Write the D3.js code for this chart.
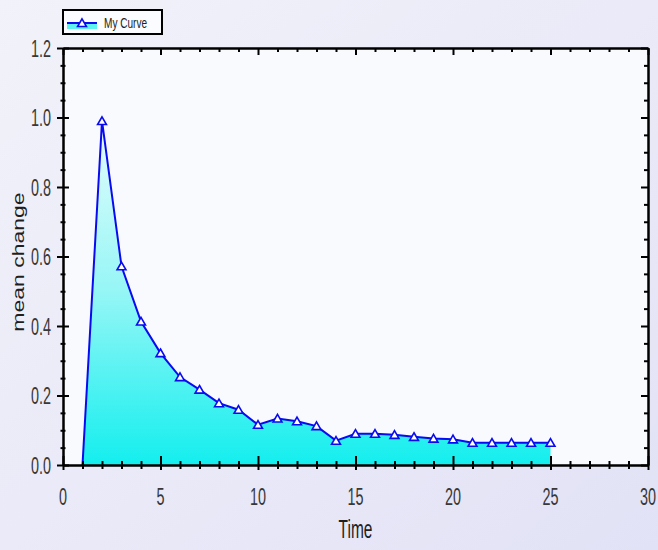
<!DOCTYPE html>
<html>
<head>
<meta charset="utf-8">
<script src="https://cdn.jsdelivr.net/npm/d3@7"></script>
<style>
  body { margin: 0; padding: 0; background: #fff; }
  #viz svg { display: block; }
</style>
</head>
<body>
<div id="viz"></div>
<script>
// chart data
const times = [1, 2, 3, 4, 5, 6, 7, 8, 9, 10, 11, 12, 13, 14, 15, 16, 17, 18, 19, 20, 21, 22, 23, 24, 25];
const meanChange = [0, 0.99, 0.572, 0.413, 0.322, 0.253, 0.217, 0.178, 0.159, 0.116, 0.134, 0.126, 0.112, 0.07,
  0.09, 0.09, 0.087, 0.081, 0.076, 0.074, 0.064, 0.064, 0.064, 0.064, 0.064];
const xTicks = [0, 5, 10, 15, 20, 25, 30];
const yTicks = [0, 0.2, 0.4, 0.6, 0.8, 1.0, 1.2];
const seriesName = "My Curve";

const data = times.map((t, i) => ({ t: t, v: meanChange[i] }));

const W = 658, H = 550;
const margin = { top: 48, right: 10, bottom: 85, left: 63 };
const width = W - margin.left - margin.right;
const height = H - margin.top - margin.bottom;
const FONT = "'Liberation Sans', Arial, sans-serif";

const svg = d3.select("#viz").append("svg")
  .attr("width", W)
  .attr("height", H);

const defs = svg.append("defs");
const bg = defs.append("linearGradient").attr("id", "bg")
  .attr("x1", 0).attr("y1", 0).attr("x2", 1).attr("y2", 1);
bg.append("stop").attr("offset", 0).attr("stop-color", "#f2f2fa");
bg.append("stop").attr("offset", 1).attr("stop-color", "#e2e2f6");

const y = d3.scaleLinear().domain([0, 1.2]).range([height, 0]);
const x = d3.scaleLinear().domain([0, 30]).range([0, width]);

const fillGrad = defs.append("linearGradient").attr("id", "areaFill")
  .attr("gradientUnits", "userSpaceOnUse")
  .attr("x1", 0).attr("x2", 0)
  .attr("y1", y(1.0)).attr("y2", y(0));
fillGrad.append("stop").attr("offset", 0).attr("stop-color", "#e8fcfc");
fillGrad.append("stop").attr("offset", 0.5).attr("stop-color", "#96f6f6");
fillGrad.append("stop").attr("offset", 1).attr("stop-color", "#14eeee");

svg.append("rect").attr("width", W).attr("height", H).attr("fill", "url(#bg)");

const g = svg.append("g").attr("transform", `translate(${margin.left},${margin.top})`);

g.append("rect")
  .attr("width", width).attr("height", height)
  .attr("fill", "#f8fafe");

// area + line
const area = d3.area().x(d => x(d.t)).y0(y(0)).y1(d => y(d.v));
const line = d3.line().x(d => x(d.t)).y(d => y(d.v));

g.append("path").datum(data)
  .attr("d", area)
  .attr("fill", "url(#areaFill)");

g.append("path").datum(data)
  .attr("d", line)
  .attr("fill", "none")
  .attr("stroke", "#0a0af0")
  .attr("stroke-width", 2);

const tri = d3.symbol().type(d3.symbolTriangle).size(34);
g.selectAll(".marker")
  .data(data.slice(1))
  .enter()
  .append("path")
  .attr("class", "marker")
  .attr("d", tri)
  .attr("transform", d => `translate(${x(d.t)},${y(d.v) + 1})`)
  .attr("fill", "#fff")
  .attr("stroke", "#0a0af0")
  .attr("stroke-width", 1.6);

// axes
const minorX = d3.range(0, 31, 1).filter(v => v % 5 !== 0);
const minorY = d3.range(0, 1.21, 0.05).filter((v, i) => i % 4 !== 0);

function styleAxis(sel) {
  sel.select(".domain").attr("stroke", "#000").attr("stroke-width", 2);
  sel.selectAll(".tick line").attr("stroke", "#000").attr("stroke-width", 2);
}

// bottom
const xb = g.append("g").attr("transform", `translate(0,${height})`)
  .call(d3.axisBottom(x).tickValues(xTicks).tickFormat("").tickSizeOuter(0));
xb.selectAll(".tick line").attr("y1", -9).attr("y2", 5);
styleAxis(xb);
const xbm = g.append("g").attr("transform", `translate(0,${height})`)
  .call(d3.axisBottom(x).tickValues(minorX).tickFormat("").tickSizeOuter(0));
xbm.selectAll(".tick line").attr("y1", -4).attr("y2", 4);
styleAxis(xbm);

// narrow, tall tick labels like the original
g.selectAll(".xlab")
  .data(xTicks)
  .enter()
  .append("text")
  .attr("class", "xlab")
  .attr("transform", d => `translate(${x(d)},${height + 40}) scale(0.6,1)`)
  .attr("text-anchor", "middle")
  .style("font-family", FONT)
  .style("font-size", "24px")
  .attr("fill", "#383838")
  .text(d => d);

// left
const yl = g.append("g")
  .call(d3.axisLeft(y).tickValues(yTicks).tickFormat("").tickSizeOuter(0));
yl.selectAll(".tick line").attr("x1", -6).attr("x2", 6);
styleAxis(yl);
const ylm = g.append("g")
  .call(d3.axisLeft(y).tickValues(minorY).tickFormat("").tickSizeOuter(0));
ylm.selectAll(".tick line").attr("x1", -2.5).attr("x2", 2.5);
styleAxis(ylm);

g.selectAll(".ylab")
  .data(yTicks)
  .enter()
  .append("text")
  .attr("class", "ylab")
  .attr("transform", d => `translate(-12,${y(d) + 8.5}) scale(0.6,1)`)
  .attr("text-anchor", "end")
  .style("font-family", FONT)
  .style("font-size", "24px")
  .attr("fill", "#383838")
  .text(d => d3.format(".1f")(d));

// top (ticks inward)
const xt = g.append("g")
  .call(d3.axisBottom(x).tickValues(xTicks).tickFormat("").tickSize(7).tickSizeOuter(0));
styleAxis(xt);
const xtm = g.append("g")
  .call(d3.axisBottom(x).tickValues(minorX).tickFormat("").tickSize(4).tickSizeOuter(0));
styleAxis(xtm);

// right (ticks inward)
const yr = g.append("g").attr("transform", `translate(${width},0)`)
  .call(d3.axisLeft(y).tickValues(yTicks).tickFormat("").tickSize(7).tickSizeOuter(0));
styleAxis(yr);
const yrm = g.append("g").attr("transform", `translate(${width},0)`)
  .call(d3.axisLeft(y).tickValues(minorY).tickFormat("").tickSize(4).tickSizeOuter(0));
styleAxis(yrm);

// axis titles
svg.append("text")
  .attr("transform", `translate(${margin.left + x(15)},538) scale(0.62,1)`)
  .attr("text-anchor", "middle")
  .style("font-family", FONT)
  .style("font-size", "25px")
  .attr("fill", "#1e1e1e")
  .text("Time");

svg.append("text")
  .attr("transform", `translate(24,${margin.top + y(0.584)}) rotate(-90) scale(1,0.75)`)
  .attr("text-anchor", "middle")
  .style("font-family", FONT)
  .style("font-size", "23px")
  .attr("fill", "#1e1e1e")
  .text("mean change");

// legend
const lg = svg.append("g").attr("transform", "translate(63,10)");
lg.append("rect").attr("width", 99).attr("height", 24)
  .attr("fill", "#fafcff").attr("stroke", "#000").attr("stroke-width", 2);
lg.append("rect").attr("x", 4).attr("y", 13).attr("width", 30).attr("height", 6).attr("fill", "#5ef2f2");
lg.append("line").attr("x1", 4).attr("x2", 34).attr("y1", 13).attr("y2", 13)
  .attr("stroke", "#0a0af0").attr("stroke-width", 2);
lg.append("path").attr("d", tri).attr("transform", "translate(19,14)")
  .attr("fill", "#fff").attr("stroke", "#0a0af0").attr("stroke-width", 1.6);
lg.append("text").attr("transform", "translate(41,17.5) scale(0.72,1)")
  .style("font-family", FONT)
  .style("font-size", "14px")
  .attr("fill", "#222")
  .text(seriesName);
</script>
</body>
</html>
